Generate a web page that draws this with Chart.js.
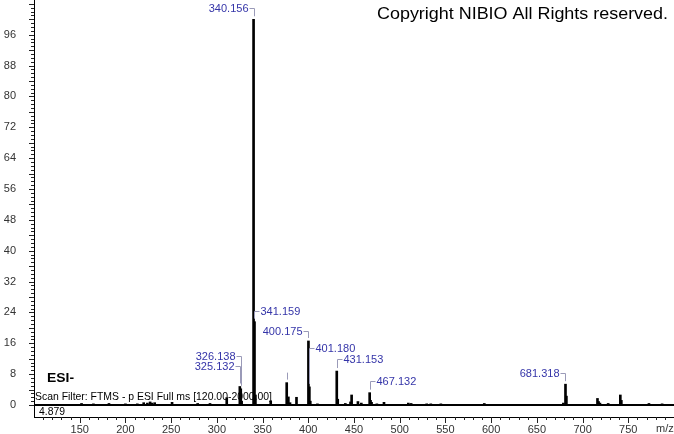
<!DOCTYPE html>
<html>
<head>
<meta charset="utf-8">
<script src="https://cdn.jsdelivr.net/npm/chart.js@4"></script>
<style>html,body{margin:0;padding:0;background:#fff}</style>
</head>
<body>
<canvas id="ms" width="674" height="434"></canvas>
<script>
// peaks: m/z and relative abundance (%)
const peakMz  = [152, 165, 182, 200, 213, 220, 224, 227, 229, 232, 251, 279, 292.5, 310.8,
                 325.132, 326.138, 327.1, 340.156, 341.159, 342.16, 358.9, 376.4, 377.4, 378.2, 380, 387.1,
                 400.175, 401.180, 402.2, 410, 431.153, 432.2, 440.5, 446.2, 447.4, 454.3, 458,
                 467.132, 468.1, 469.2, 475, 482.8, 509.4, 512.5, 529.5, 534, 545, 592.5,
                 679, 681.318, 682.3, 716.3, 717.5, 719, 728, 741.3, 742.4, 772.6, 787];
const peakInt = [0.4, 0.3, 0.4, 0.3, 0.3, 0.6, 0.5, 0.8, 0.5, 0.6, 0.7, 0.4, 0.4, 1.9,
                 4.8, 4.2, 1.0, 100, 21.6, 2.6, 1.1, 5.8, 1.2, 2.1, 0.6, 2.0,
                 16.6, 4.7, 1.0, 0.3, 8.8, 1.5, 0.4, 0.8, 2.6, 0.9, 0.5,
                 3.2, 1.2, 0.7, 0.3, 0.7, 0.5, 0.4, 0.3, 0.3, 0.3, 0.4,
                 0.5, 5.4, 2.3, 1.7, 0.9, 0.5, 0.4, 2.6, 1.2, 0.4, 0.3];

// labelled peaks
const labelMz = [340.156, 341.159, 400.175, 401.180, 431.153, 467.132, 681.318, 326.138, 325.132];
const markMz = [376.4]; // bracket without text

const yTicks = [0, 8, 16, 24, 32, 40, 48, 56, 64, 72, 80, 88, 96];
const xTicks = [150, 200, 250, 300, 350, 400, 450, 500, 550, 600, 650, 700, 750];

// where each label sits: side of the peak and lift above its top (px)
const labelPlace = [['L', 11], ['R', 11], ['L', 10], ['R', 39], ['R', 12], ['R', 12], ['L', 11], ['L', 33], ['L', 20]];

const FONT = 'Liberation Sans, Arial, sans-serif';

const peaks = peakMz.map((m, i) => ({x: m, y: peakInt[i]}));

const minorTicks = {
  id: 'minorTicks',
  afterDraw(chart) {
    const {ctx, scales: {x, y}} = chart;
    ctx.save();
    ctx.strokeStyle = '#222';
    ctx.lineWidth = 1;
    ctx.beginPath();
    for (let v = 0; v <= 104; v++) {
      const py = Math.round(y.getPixelForValue(v)) + 0.5;
      const len = v % 4 === 0 ? 5 : 3;
      ctx.moveTo(y.right - len, py);
      ctx.lineTo(y.right, py);
    }
    for (let v = 110; v < 800; v += 10) {
      const px = Math.round(x.getPixelForValue(v)) + 0.5;
      const len = v % 50 === 0 ? 6 : 3;
      ctx.moveTo(px, x.top);
      ctx.lineTo(px, x.top + len);
    }
    ctx.stroke();
    ctx.restore();
  }
};

// draw text stretched to a given width, starting at x0 (left edge)
function text(ctx, str, font, x0, y0, width) {
  ctx.save();
  ctx.font = font;
  ctx.textAlign = 'left';
  const w = ctx.measureText(str).width;
  ctx.translate(x0, y0);
  ctx.scale(width ? width / w : 1, 1);
  ctx.fillText(str, 0, 0);
  ctx.restore();
}

const peakLabels = {
  id: 'peakLabels',
  afterDatasetsDraw(chart) {
    const {ctx, scales: {x, y}} = chart;
    ctx.save();
    ctx.font = '11px ' + FONT;
    ctx.textBaseline = 'middle';
    ctx.lineWidth = 1;
    labelMz.forEach((mz, i) => {
      const k = peakMz.indexOf(mz);
      const px = Math.round(x.getPixelForValue(mz)) + 0.5;
      const top = y.getPixelForValue(peakInt[k]);
      const [side, lift] = labelPlace[i];
      const ty = Math.round(top - lift) + 0.5;
      ctx.strokeStyle = '#9a9ab8';
      ctx.beginPath();
      ctx.moveTo(px, top - 3);
      ctx.lineTo(px, ty);
      ctx.lineTo(side === 'L' ? px - 5 : px + 5, ty);
      ctx.stroke();
      ctx.fillStyle = '#3434a8';
      ctx.textAlign = side === 'L' ? 'right' : 'left';
      ctx.fillText(mz.toFixed(3), side === 'L' ? px - 6 : px + 6, ty);
    });
    markMz.forEach(mz => {
      const k = peakMz.indexOf(mz);
      const px = Math.round(x.getPixelForValue(mz)) + 0.5;
      const top = y.getPixelForValue(peakInt[k]);
      ctx.strokeStyle = '#9a9ab8';
      ctx.beginPath();
      ctx.moveTo(px, top - 3);
      ctx.lineTo(px, top - 10);
      ctx.stroke();
    });

    // header texts
    ctx.textBaseline = 'alphabetic';
    ctx.fillStyle = '#000';
    text(ctx, 'Copyright NIBIO All Rights reserved.', '16px ' + FONT, 377, 19, 291);
    text(ctx, 'ESI-', 'bold 13px ' + FONT, 47, 382, 27);
    text(ctx, 'Scan Filter: FTMS - p ESI Full ms [120.00-2000.00]', '11px ' + FONT, 35, 400, 237);
    text(ctx, '4.879', '11px ' + FONT, 39, 415, 26);
    ctx.fillStyle = '#333';
    text(ctx, 'm/z', '11px ' + FONT, 656, 432);
    ctx.restore();
  }
};

new Chart(document.getElementById('ms'), {
  data: {
    datasets: [
      {
        type: 'bar',
        data: peaks,
        backgroundColor: '#000',
        borderWidth: 0,
        barThickness: 2
      },
      {
        type: 'line',
        data: [{x: 100, y: 0}, {x: 800, y: 0}],
        borderColor: '#000',
        borderWidth: 2,
        pointRadius: 0
      }
    ]
  },
  options: {
    responsive: false,
    animation: false,
    layout: {padding: 0},
    plugins: {legend: {display: false}, tooltip: {enabled: false}},
    scales: {
      x: {
        type: 'linear',
        offset: false,
        min: 100,
        max: 800,
        grid: {display: false, drawTicks: false, offset: false},
        border: {display: true, color: '#000', width: 1},
        ticks: {font: {family: FONT, size: 11}, color: '#333', padding: 6, maxRotation: 0, autoSkip: false},
        afterBuildTicks: s => { s.ticks = xTicks.map(v => ({value: v})); },
        afterFit: s => { s.height = 17; s.paddingLeft = 0; s.paddingRight = 0; }
      },
      y: {
        type: 'linear',
        min: -3.11,
        max: 105,
        grid: {display: false, drawTicks: false},
        border: {display: true, color: '#000', width: 1},
        ticks: {font: {family: FONT, size: 11}, color: '#333', padding: 18, autoSkip: false},
        afterBuildTicks: s => { s.ticks = yTicks.map(v => ({value: v})); },
        afterFit: s => { s.width = 34; s.paddingTop = 0; s.paddingBottom = 0; }
      }
    }
  },
  plugins: [minorTicks, peakLabels]
});
</script>
</body>
</html>
